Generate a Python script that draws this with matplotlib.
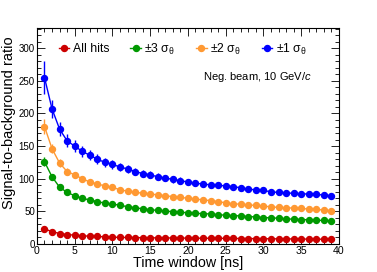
import numpy as np
import matplotlib
matplotlib.use("Agg")
import matplotlib.pyplot as plt
from matplotlib.lines import Line2D
from matplotlib.ticker import MultipleLocator

plt.rcParams['font.family'] = ['Liberation Sans', 'DejaVu Sans']
plt.rcParams['mathtext.fontset'] = 'custom'
plt.rcParams['mathtext.rm'] = 'Liberation Sans'
plt.rcParams['mathtext.it'] = 'Liberation Sans:italic'

# time window [ns]
window = list(range(1, 40))

all_hits = [23, 19, 16, 14.5, 13.5, 12.5, 12, 11.5, 11, 10.5, 10, 10, 9.8, 9.6, 9.5, 9.4,
            9.3, 9.2, 9.1, 9, 8.9, 8.8, 8.8, 8.7, 8.6, 8.5, 8.4, 8.3, 8.2, 8.1, 8, 7.9,
            7.8, 7.7, 7.6, 7.5, 7.4, 7.3, 7.2]
all_hits_err = [2.5, 2, 1.8, 1.6, 1.5, 1.4, 1.3, 1.2, 1.2, 1.1, 1.1, 1, 1, 1, 1, 1, 1, 1,
                1, 1, 1, 1, 1, 1, 1, 1, 1, 1, 1, 1, 1, 1, 1, 1, 1, 1, 1, 1, 1]

sig3 = [126, 103, 87, 79, 74, 70, 67.5, 65, 62.5, 61, 59.5, 57, 55.5, 54, 52.5, 51.5,
        50.5, 49.5, 48.5, 48, 47, 46.5, 46, 45, 44, 43.5, 43, 42, 41.5, 40.5, 40, 39.5,
        38.5, 38, 37.5, 37, 36.5, 36, 35.5]
sig3_err = [7, 5, 4, 3.5, 3.2, 3, 2.8, 2.7, 2.6, 2.5, 2.4, 2.3, 2.2, 2.2, 2.1, 2.1, 2,
            2, 2, 2, 1.9, 1.9, 1.9, 1.8, 1.8, 1.8, 1.8, 1.7, 1.7, 1.7, 1.7, 1.6, 1.6,
            1.6, 1.6, 1.6, 1.5, 1.5, 1.5]

sig2 = [180, 146, 124, 111, 106, 100, 95, 92, 89, 87, 83, 81, 79, 78, 77, 75, 74, 72.5,
        71.5, 70, 69, 67.5, 66.5, 65, 63, 61.5, 61, 60, 59, 58, 57, 56, 55.5, 55, 54.5,
        53.5, 53, 52, 51]
sig2_err = [12, 7, 6, 5, 4.5, 4.2, 4, 3.8, 3.6, 3.5, 3.4, 3.3, 3.2, 3.1, 3, 3, 2.9, 2.9,
            2.8, 2.8, 2.7, 2.7, 2.6, 2.6, 2.5, 2.5, 2.5, 2.4, 2.4, 2.4, 2.3, 2.3, 2.3,
            2.2, 2.2, 2.2, 2.2, 2.1, 2.1]

sig1 = [255, 207, 176, 158, 150, 142, 136, 130, 125, 122, 118, 115, 111, 108, 106, 103,
        101, 99, 97, 95, 93, 92, 90.5, 90, 89, 88, 86, 84, 83, 82, 80, 79, 78.5, 77.5,
        77, 76.5, 76, 75, 74]
sig1_err = [25, 14, 11, 10, 9, 8.5, 8, 7.5, 7, 7, 6.5, 6.5, 6, 6, 5.5, 5.5, 5, 5, 5, 4.5,
            4.5, 4.4, 4.3, 4.2, 4.1, 4, 4, 3.9, 3.9, 3.8, 3.8, 3.7, 3.7, 3.6, 3.6, 3.6,
            3.5, 3.5, 3.5]

labels = ['All hits', '±3 σ$_{\\mathrm{θ}}$', '±2 σ$_{\\mathrm{θ}}$', '±1 σ$_{\\mathrm{θ}}$']
colors = ['#cc0000', '#009900', '#ff9933', '#0000ff']
series = [(all_hits, all_hits_err), (sig3, sig3_err), (sig2, sig2_err), (sig1, sig1_err)]

fig = plt.figure(figsize=(3.77, 2.72), dpi=100)
ax = fig.add_axes([0.098, 0.103, 0.801, 0.794])

for (vals, errs), c in zip(series, colors):
    ax.errorbar(window, vals, yerr=errs, color=c, marker='o', markersize=4.3,
                linewidth=1.0, elinewidth=1.0, capsize=0)

ax.set_xlim(0, 40)
ax.set_ylim(0, 331)
ax.xaxis.set_major_locator(MultipleLocator(5))
ax.xaxis.set_minor_locator(MultipleLocator(1))
ax.yaxis.set_major_locator(MultipleLocator(50))
ax.yaxis.set_minor_locator(MultipleLocator(10))
ax.tick_params(which='both', direction='in', top=True, right=True)
ax.tick_params(axis='x', labelsize=7.6, pad=1.5)
ax.tick_params(axis='y', labelsize=7.0, pad=1.5)
ax.tick_params(which='major', length=5.5, width=0.6)
ax.tick_params(which='minor', length=2.8, width=0.6)
for s in ax.spines.values():
    s.set_linewidth(0.8)

ax.set_xlabel('Time window [ns]', fontsize=10.3, labelpad=0)
ax.set_ylabel('Signal-to-background ratio', fontsize=10.5)
ax.yaxis.set_label_coords(-0.068, 0.56)

handles = [Line2D([], [], color=c, marker='o', markersize=4.3, linewidth=1.0) for c in colors]
ax.legend(handles, labels, ncol=4, loc='center left', bbox_to_anchor=(0.073, 0.903),
          frameon=False, fontsize=8.8, handlelength=0.85, handletextpad=0.3,
          columnspacing=1.7, borderaxespad=0, borderpad=0)

ax.text(0.55, 0.775, 'Neg. beam, 10 GeV/$\\mathit{c}$', transform=ax.transAxes,
        fontsize=8.0, va='center')

fig.savefig('out.png', dpi=100)
